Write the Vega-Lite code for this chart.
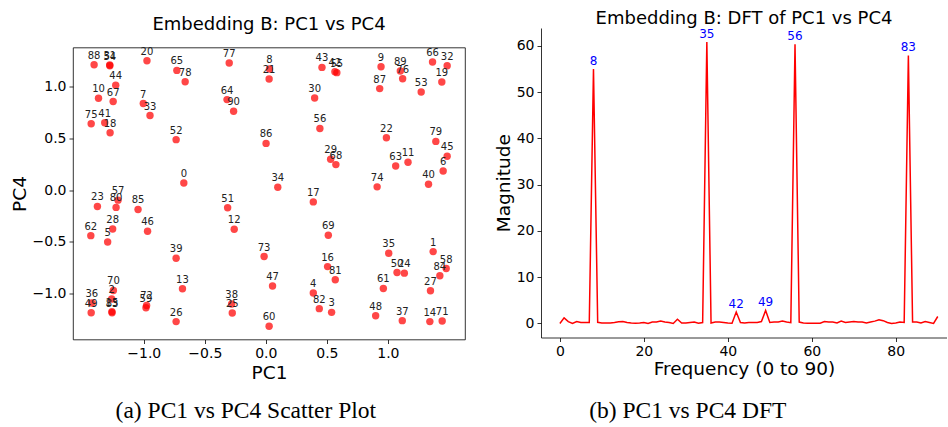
{
  "$schema": "https://vega.github.io/schema/vega-lite/v6.json",
  "background": "white",
  "padding": {"left": 9, "top": 10, "right": 0, "bottom": 0},
  "spacing": 28,
  "config": {
    "font": "DejaVu Sans",
    "view": {"stroke": null},
    "axis": {
      "grid": false,
      "domain": false,
      "ticks": true,
      "tickColor": "#000",
      "tickSize": 4,
      "tickWidth": 0.8,
      "labelColor": "#000",
      "labelFontSize": 14,
      "labelPadding": 3,
      "titleColor": "#000",
      "titleFontSize": 18.5,
      "titleFontWeight": "normal",
      "titlePadding": 3
    },
    "title": {"fontSize": 18, "fontWeight": "normal", "color": "#000"}
  },
  "hconcat": [
    {
      "title": {"text": "(a) PC1 vs PC4 Scatter Plot", "orient": "bottom", "anchor": "start", "dx": 106, "font": "Liberation Serif", "fontSize": 23.5, "fontWeight": "normal", "offset": 16.5},
      "spacing": 5.5,
      "vconcat": [
        {
          "width": 392,
          "height": 12,
          "title": {"text": "Embedding B: PC1 vs PC4", "offset": -5.5},
          "data": {"values": []},
          "mark": "point"
        },
        {
          "width": 392,
          "height": 292,
          "view": {"stroke": "#000", "strokeWidth": 0.8},
          "data": {"values": [
            {"id": 0, "pc1": -0.672, "pc4": 0.070},
            {"id": 1, "pc1": 1.371, "pc4": -0.593},
            {"id": 2, "pc1": -1.263, "pc4": -1.051},
            {"id": 3, "pc1": 0.539, "pc4": -1.180},
            {"id": 4, "pc1": 0.389, "pc4": -0.993},
            {"id": 5, "pc1": -1.296, "pc4": -0.500},
            {"id": 6, "pc1": 1.453, "pc4": 0.186},
            {"id": 7, "pc1": -1.004, "pc4": 0.837},
            {"id": 8, "pc1": 0.030, "pc4": 1.170},
            {"id": 9, "pc1": 0.944, "pc4": 1.192},
            {"id": 10, "pc1": -1.371, "pc4": 0.888},
            {"id": 11, "pc1": 1.165, "pc4": 0.269},
            {"id": 12, "pc1": -0.259, "pc4": -0.378},
            {"id": 13, "pc1": -0.683, "pc4": -0.952},
            {"id": 14, "pc1": 1.344, "pc4": -1.269},
            {"id": 15, "pc1": -1.261, "pc4": -1.173},
            {"id": 16, "pc1": 0.506, "pc4": -0.738},
            {"id": 17, "pc1": 0.389, "pc4": -0.113},
            {"id": 18, "pc1": -1.276, "pc4": 0.555},
            {"id": 19, "pc1": 1.442, "pc4": 1.045},
            {"id": 20, "pc1": -0.974, "pc4": 1.250},
            {"id": 21, "pc1": 0.027, "pc4": 1.074},
            {"id": 22, "pc1": 0.988, "pc4": 0.507},
            {"id": 23, "pc1": -1.380, "pc4": -0.157},
            {"id": 24, "pc1": 1.135, "pc4": -0.801},
            {"id": 25, "pc1": -0.275, "pc4": -1.186},
            {"id": 26, "pc1": -0.735, "pc4": -1.269},
            {"id": 27, "pc1": 1.349, "pc4": -0.971},
            {"id": 28, "pc1": -1.255, "pc4": -0.375},
            {"id": 29, "pc1": 0.531, "pc4": 0.298},
            {"id": 30, "pc1": 0.400, "pc4": 0.891},
            {"id": 31, "pc1": -1.279, "pc4": 1.209},
            {"id": 32, "pc1": 1.486, "pc4": 1.202},
            {"id": 33, "pc1": -0.949, "pc4": 0.721},
            {"id": 34, "pc1": 0.098, "pc4": 0.029},
            {"id": 35, "pc1": 1.007, "pc4": -0.609},
            {"id": 36, "pc1": -1.426, "pc4": -1.089},
            {"id": 37, "pc1": 1.118, "pc4": -1.260},
            {"id": 38, "pc1": -0.280, "pc4": -1.099},
            {"id": 39, "pc1": -0.735, "pc4": -0.657},
            {"id": 40, "pc1": 1.333, "pc4": 0.058},
            {"id": 41, "pc1": -1.320, "pc4": 0.651},
            {"id": 42, "pc1": 0.566, "pc4": 1.144},
            {"id": 43, "pc1": 0.460, "pc4": 1.186},
            {"id": 44, "pc1": -1.230, "pc4": 1.013},
            {"id": 45, "pc1": 1.486, "pc4": 0.327},
            {"id": 46, "pc1": -0.969, "pc4": -0.397},
            {"id": 47, "pc1": 0.055, "pc4": -0.926},
            {"id": 48, "pc1": 0.900, "pc4": -1.212},
            {"id": 49, "pc1": -1.431, "pc4": -1.183},
            {"id": 50, "pc1": 1.075, "pc4": -0.795},
            {"id": 51, "pc1": -0.313, "pc4": -0.170},
            {"id": 52, "pc1": -0.735, "pc4": 0.488},
            {"id": 53, "pc1": 1.273, "pc4": 0.949},
            {"id": 54, "pc1": -1.278, "pc4": 1.202},
            {"id": 55, "pc1": 0.582, "pc4": 1.135},
            {"id": 56, "pc1": 0.443, "pc4": 0.596},
            {"id": 57, "pc1": -1.211, "pc4": -0.096},
            {"id": 58, "pc1": 1.478, "pc4": -0.757},
            {"id": 59, "pc1": -0.982, "pc4": -1.135},
            {"id": 60, "pc1": 0.027, "pc4": -1.314},
            {"id": 61, "pc1": 0.963, "pc4": -0.949},
            {"id": 62, "pc1": -1.434, "pc4": -0.439},
            {"id": 63, "pc1": 1.064, "pc4": 0.234},
            {"id": 64, "pc1": -0.318, "pc4": 0.875},
            {"id": 65, "pc1": -0.729, "pc4": 1.157},
            {"id": 66, "pc1": 1.366, "pc4": 1.238},
            {"id": 67, "pc1": -1.251, "pc4": 0.856},
            {"id": 68, "pc1": 0.574, "pc4": 0.247},
            {"id": 69, "pc1": 0.512, "pc4": -0.436},
            {"id": 70, "pc1": -1.249, "pc4": -0.968},
            {"id": 71, "pc1": 1.445, "pc4": -1.263},
            {"id": 72, "pc1": -0.977, "pc4": -1.113},
            {"id": 73, "pc1": -0.014, "pc4": -0.641},
            {"id": 74, "pc1": 0.912, "pc4": 0.032},
            {"id": 75, "pc1": -1.431, "pc4": 0.641},
            {"id": 76, "pc1": 1.121, "pc4": 1.077},
            {"id": 77, "pc1": -0.300, "pc4": 1.228},
            {"id": 78, "pc1": -0.661, "pc4": 1.048},
            {"id": 79, "pc1": 1.393, "pc4": 0.471},
            {"id": 80, "pc1": -1.227, "pc4": -0.166},
            {"id": 81, "pc1": 0.569, "pc4": -0.865},
            {"id": 82, "pc1": 0.438, "pc4": -1.144},
            {"id": 83, "pc1": -1.260, "pc4": -1.183},
            {"id": 84, "pc1": 1.426, "pc4": -0.827},
            {"id": 85, "pc1": -1.047, "pc4": -0.186},
            {"id": 86, "pc1": 0.002, "pc4": 0.452},
            {"id": 87, "pc1": 0.933, "pc4": 0.981},
            {"id": 88, "pc1": -1.407, "pc4": 1.212},
            {"id": 89, "pc1": 1.102, "pc4": 1.151},
            {"id": 90, "pc1": -0.264, "pc4": 0.763}
          ]},
          "encoding": {
            "x": {"field": "pc1", "type": "quantitative", "scale": {"domain": [-1.58, 1.632], "nice": false, "zero": false}, "axis": {"title": "PC1", "values": [-1, -0.5, 0, 0.5, 1], "format": ".1f"}},
            "y": {"field": "pc4", "type": "quantitative", "scale": {"domain": [-1.442, 1.378], "nice": false, "zero": false}, "axis": {"title": "PC4", "values": [-1, -0.5, 0, 0.5, 1], "format": ".1f"}}
          },
          "layer": [
            {"mark": {"type": "circle", "color": "#ff0000", "opacity": 0.72, "size": 55}},
            {"mark": {"type": "text", "fontSize": 10, "dy": -9, "color": "#222222"}, "encoding": {"text": {"field": "id", "type": "nominal"}}}
          ]
        }
      ]
    },
    {
      "title": {"text": "(b) PC1 vs PC4 DFT", "orient": "bottom", "anchor": "start", "dx": 95, "font": "Liberation Serif", "fontSize": 23.5, "fontWeight": "normal", "offset": 21},
      "vconcat": [
        {
          "width": 406,
          "height": 309.5,
          "title": {"text": "Embedding B: DFT of PC1 vs PC4", "offset": 0},
          "data": {"values": [
            {"freq": 0, "mag": 0.0}, {"freq": 1, "mag": 1.2}, {"freq": 2, "mag": 0.4}, {"freq": 3, "mag": 0.0},
            {"freq": 4, "mag": 0.4}, {"freq": 5, "mag": 0.2}, {"freq": 6, "mag": 0.2}, {"freq": 7, "mag": 0.2},
            {"freq": 8, "mag": 55.0}, {"freq": 9, "mag": 0.25}, {"freq": 10, "mag": 0.1}, {"freq": 11, "mag": 0.1},
            {"freq": 12, "mag": 0.1}, {"freq": 13, "mag": 0.2}, {"freq": 14, "mag": 0.35}, {"freq": 15, "mag": 0.4},
            {"freq": 16, "mag": 0.2}, {"freq": 17, "mag": 0.1}, {"freq": 18, "mag": 0.05}, {"freq": 19, "mag": 0.1},
            {"freq": 20, "mag": 0.2}, {"freq": 21, "mag": 0.0}, {"freq": 22, "mag": 0.3}, {"freq": 23, "mag": 0.3},
            {"freq": 24, "mag": 0.5}, {"freq": 25, "mag": 0.3}, {"freq": 26, "mag": 0.2}, {"freq": 27, "mag": 0.0},
            {"freq": 28, "mag": 0.9}, {"freq": 29, "mag": 0.1}, {"freq": 30, "mag": 0.1}, {"freq": 31, "mag": 0.2},
            {"freq": 32, "mag": 0.3}, {"freq": 33, "mag": 0.05}, {"freq": 34, "mag": 0.2}, {"freq": 35, "mag": 60.8},
            {"freq": 36, "mag": 0.1}, {"freq": 37, "mag": 0.3}, {"freq": 38, "mag": 0.3}, {"freq": 39, "mag": 0.2},
            {"freq": 40, "mag": 0.1}, {"freq": 41, "mag": 0.05}, {"freq": 42, "mag": 2.45}, {"freq": 43, "mag": 0.2},
            {"freq": 44, "mag": 0.1}, {"freq": 45, "mag": 0.2}, {"freq": 46, "mag": 0.2}, {"freq": 47, "mag": 0.2},
            {"freq": 48, "mag": 0.4}, {"freq": 49, "mag": 2.8}, {"freq": 50, "mag": 0.2}, {"freq": 51, "mag": 0.3},
            {"freq": 52, "mag": 0.3}, {"freq": 53, "mag": 0.5}, {"freq": 54, "mag": 0.3}, {"freq": 55, "mag": 0.15},
            {"freq": 56, "mag": 60.3}, {"freq": 57, "mag": 0.3}, {"freq": 58, "mag": 0.1}, {"freq": 59, "mag": 0.05},
            {"freq": 60, "mag": 0.05}, {"freq": 61, "mag": 0.05}, {"freq": 62, "mag": 0.05}, {"freq": 63, "mag": 0.4},
            {"freq": 64, "mag": 0.3}, {"freq": 65, "mag": 0.3}, {"freq": 66, "mag": 0.1}, {"freq": 67, "mag": 0.5},
            {"freq": 68, "mag": 0.2}, {"freq": 69, "mag": 0.3}, {"freq": 70, "mag": 0.4}, {"freq": 71, "mag": 0.3},
            {"freq": 72, "mag": 0.3}, {"freq": 73, "mag": 0.1}, {"freq": 74, "mag": 0.3}, {"freq": 75, "mag": 0.5},
            {"freq": 76, "mag": 0.8}, {"freq": 77, "mag": 0.6}, {"freq": 78, "mag": 0.2}, {"freq": 79, "mag": 0.0},
            {"freq": 80, "mag": 0.1}, {"freq": 81, "mag": 0.3}, {"freq": 82, "mag": 0.2}, {"freq": 83, "mag": 57.9},
            {"freq": 84, "mag": 0.3}, {"freq": 85, "mag": 0.3}, {"freq": 86, "mag": 0.1}, {"freq": 87, "mag": 0.4},
            {"freq": 88, "mag": 0.2}, {"freq": 89, "mag": 0.0}, {"freq": 90, "mag": 1.5}
          ]},
          "encoding": {
            "x": {"field": "freq", "type": "quantitative", "scale": {"domain": [-4.5, 92.2], "nice": false, "zero": false}, "axis": {"title": "Frequency (0 to 90)", "titlePadding": 1, "values": [0, 20, 40, 60, 80], "domain": true, "domainColor": "#000", "domainWidth": 0.8}},
            "y": {"field": "mag", "type": "quantitative", "scale": {"domain": [-3.04, 63.84], "nice": false, "zero": false}, "axis": {"title": "Magnitude", "values": [0, 10, 20, 30, 40, 50, 60], "domain": true, "domainColor": "#000", "domainWidth": 0.8}}
          },
          "layer": [
            {"mark": {"type": "line", "color": "#ff0000", "strokeWidth": 1.5}},
            {"transform": [{"filter": "datum.mag > 2"}], "mark": {"type": "text", "fontSize": 12, "baseline": "bottom", "dy": -1, "color": "#0000ff"}, "encoding": {"text": {"field": "freq", "type": "quantitative", "format": "d"}}}
          ]
        }
      ]
    }
  ]
}
